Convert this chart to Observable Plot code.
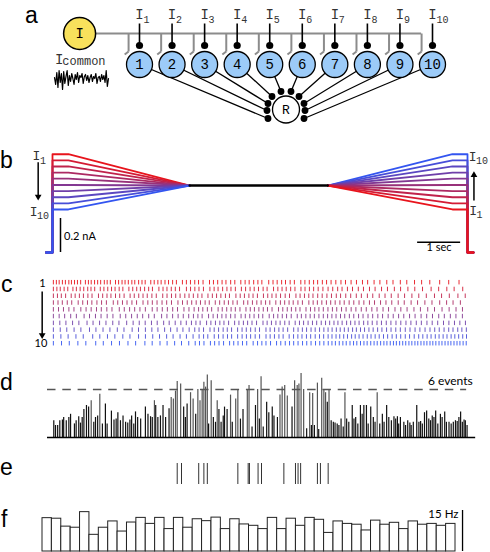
<!DOCTYPE html>
<html><head><meta charset="utf-8">
<script src="https://cdn.jsdelivr.net/npm/d3@7"></script>
<script src="https://cdn.jsdelivr.net/npm/@observablehq/plot@0.6"></script>
<style>
body{margin:0;background:#fff;}
#fig{position:relative;width:490px;height:552px;overflow:hidden;background:#fff;}
.lbl{position:absolute;font-family:"Liberation Sans",Arial,sans-serif;font-size:23px;line-height:23px;color:#000;}
</style></head><body><div id="fig"></div>
<script>
// ---------------- DATA ----------------
const neurons = [1,2,3,4,5,6,7,8,9,10];
const panelLetters = ["a","b","c","d","e","f"];
const commonNoise = [0.2,-0.5,0.7,-0.8,0.9,-0.3,0.6,-1.0,0.8,-0.4,0.3,0.9,-0.6,0.4,-0.2,0.6,0.1,-0.5,0.5,0.0,0.7,-0.3,0.4,0.2,0.6,-0.4,0.3,0.5,-0.1,0.4,-0.3,0.2,0.5,-0.2,0.3,0.1,0.6,-0.4,0.2,0.3,-0.2,0.5,0.0,0.4,-0.3,0.9,-0.7,0.1];

// panel b: injected current (nA) ; break times (s)
const bTimes = [0, 0.37, 3.19, 6.40, 9.30, 9.65];
const bLeftLevels  = [0.578,0.542,0.506,0.470,0.434,0.397,0.361,0.325,0.289,0.253];
const bRightLevels = [0.253,0.289,0.325,0.361,0.397,0.434,0.470,0.506,0.542,0.578];
const bCommonLevel = 0.394;
const bScaleCurrent = 0.2;  // nA
const bScaleTime = 1;       // s

// panel c: inter-spike intervals (ms) for neurons 1..10
const rasterISI = [
 [70,65,75,70,80,60,72,68,75,110,70,65,78,72,70,85,66,74,120,72,80,70,76,82,68,90,78,74,130,80,85,76,90,82,95,88,140,92,
  95,100,88,105,150,92,98,102,90,110,96,140,100,94,105,98,92,160,100,96,104,90,108,98,150,95,102,100,94,110,98,105,
  110,120,105,130,125,140,120,150,135,160,145,170,150,180,165,190,230,210,240,220],
 [82,78,90,85,120,80,88,84,92,76,86,130,84,90,88,82,95,86,140,90,92,86,98,94,88,150,96,92,100,94,98,160,96,
  100,96,104,150,98,92,106,100,94,102,140,98,104,96,100,108,92,150,100,98,96,104,100,140,94,102,98,106,110,120,
  108,115,102,125,118,135,120,140,130,150,138,160,145,170,160,180,200,175,190,170,200,180],
 [95,90,100,130,92,98,94,104,96,150,98,100,92,106,98,102,140,96,104,100,98,108,102,150,100,104,98,102,110,98,
  100,104,96,140,102,98,100,106,94,150,100,98,104,96,102,140,100,98,96,104,108,100,150,96,102,100,98,110,104,110,
  106,112,100,120,115,130,118,140,125,150,135,145,160,150,170,160,175,190,165,180,200,170,160],
 [108,100,115,104,150,106,110,102,118,108,112,160,104,110,106,114,108,150,112,104,110,116,108,112,150,106,110,104,
  104,100,108,96,140,102,106,98,104,100,150,96,108,102,100,104,98,140,106,100,102,96,110,104,150,100,98,104,106,100,
  104,110,100,115,108,122,112,130,118,140,126,135,150,140,160,150,170,165,180,160,150,170,160,170],
 [120,115,126,118,160,122,118,124,112,128,120,170,116,124,118,122,126,160,114,120,118,124,112,150,116,120,
  104,98,106,100,150,96,104,102,98,108,140,100,96,104,102,98,106,150,100,104,96,102,98,140,104,100,96,102,108,
  104,100,112,106,118,110,125,116,130,120,140,128,150,136,145,160,150,170,158,175,165,160,150,170],
 [135,128,140,132,180,126,138,130,142,134,170,128,136,132,126,140,130,170,124,132,128,120,126,
  110,104,98,150,106,100,104,96,108,102,140,98,104,100,106,96,150,102,98,104,100,108,140,96,104,100,98,106,102,100,
  100,96,104,98,108,102,112,104,116,108,120,110,130,118,125,120,135,128,140,130,135,145,130,140,130,150,140],
 [150,142,155,146,190,140,152,148,158,144,180,150,142,138,146,134,150,128,140,132,126,120,
  104,98,150,100,106,102,96,108,140,100,104,98,102,106,150,96,100,104,98,108,102,140,100,96,104,102,98,106,100,
  96,100,92,98,104,94,100,96,106,98,102,110,104,112,108,118,112,120,115,125,118,130,122,128,135,125,130,125,130,120],
 [160,152,170,158,200,150,165,160,172,155,190,148,160,150,142,155,140,150,136,145,130,
  100,104,150,98,102,106,96,100,140,104,98,102,106,100,150,96,104,100,98,106,140,102,100,98,104,96,102,100,98,
  94,98,90,96,92,100,88,96,94,102,98,104,100,108,104,110,106,115,110,118,112,120,115,110,105,112,108,100,110,96,104,100],
 [175,168,182,170,220,165,178,172,185,166,200,160,170,158,165,150,162,148,155,140,
  104,98,150,100,106,102,96,140,104,100,98,106,102,150,96,100,104,98,140,102,100,96,104,98,106,100,96,104,
  90,94,86,92,88,96,84,90,92,98,88,96,94,100,96,104,98,102,106,100,108,104,96,100,92,98,88,94,90,96,86,90,94,88,96],
 [190,180,200,185,230,176,192,184,198,178,215,170,182,165,175,160,168,150,
  100,104,150,98,102,106,140,96,100,104,98,150,102,100,96,106,140,98,104,100,96,102,104,98,100,104,98,96,102,
  86,80,90,84,78,88,82,76,86,80,74,84,78,72,80,76,70,78,74,68,76,72,70,74,68,72,66,74,70,68,72,66,70,74,68,72,70,66,72,70,68,74,72,66]
];

// panel d: population events per bin (time s, count)
const dTimes = [0.03,0.07,0.12,0.17,0.23,0.26,0.32,0.38,0.42,0.51,0.55,0.61,0.65,0.69,0.73,0.79,0.84,0.90,0.96,1.00,1.05,1.10,1.16,1.23,1.27,1.37,1.43,1.48,1.52,1.58,1.64,1.70,1.75,1.80,1.84,1.89,1.93,1.98,2.05,2.16,2.22,2.28,2.32,2.37,2.40,2.45,2.51,2.57,2.63,2.71,2.76,2.81,2.86,2.90,2.98,3.05,3.09,3.13,3.21,3.27,3.33,3.38,3.43,3.48,3.52,3.56,3.60,3.63,3.69,3.74,3.79,3.83,3.87,3.92,3.97,4.00,4.06,4.14,4.18,4.26,4.31,4.37,
 4.43,4.53,4.57,4.64,4.72,4.77,4.81,4.85,4.90,4.98,5.03,5.11,5.15,5.23,5.29,5.34,5.40,5.46,5.57,5.63,5.69,5.73,5.78,5.84,5.91,5.98,6.02,6.05,6.09,6.16,6.19,6.26,6.31,6.35,6.39,6.43,6.48,6.53,6.57,6.62,6.66,6.71,6.76,6.80,6.84,6.89,6.97,7.01,7.05,7.10,7.16,7.20,7.24,7.30,7.34,7.40,7.46,7.50,7.55,7.61,7.67,7.71,7.77,7.82,7.88,7.94,7.98,8.02,8.05,8.09,8.17,8.21,8.26,8.31,8.34,8.39,8.47,8.52,8.56,8.60,8.65,8.70,8.75,8.79,8.83,8.87,8.91,8.96,9.02,9.06,9.12,9.16,9.22,9.27,9.32,9.37,9.41,9.45,9.49,9.53,9.57,9.60,9.64];
const dCounts = [2.1,1.5,1.5,2.1,2.2,2.5,2.1,2.5,2.9,1.7,2.1,2.6,1.8,2.5,3.5,4.0,3.8,4.6,1.9,2.5,2.7,5.4,1.7,4.2,1.7,3.3,2.2,2.3,3.1,2.1,2.7,1.9,1.8,2.2,2.7,1.7,3.2,2.5,2.3,3.8,2.9,2.6,2.5,4.6,4.0,2.5,2.7,4.0,2.5,3.6,5.0,4.8,5.8,7.0,6.7,3.8,2.5,4.2,5.6,4.8,2.9,6.0,4.6,6.0,6.9,6.3,7.8,1.7,7.1,2.5,1.9,4.6,3.5,1.9,2.7,3.8,3.5,5.3,1.9,4.8,6.0,2.3,
 3.5,6.0,6.5,1.3,4.0,6.0,2.3,7.6,1.3,4.4,3.1,3.8,2.7,2.5,5.3,6.3,6.5,5.2,3.8,7.1,6.5,6.7,8.0,6.0,1.1,5.6,1.5,5.5,1.5,6.8,1.0,7.4,6.0,5.6,4.4,6.0,2.1,1.9,1.8,1.7,1.5,2.3,1.3,5.6,2.3,1.9,4.0,2.3,2.5,1.7,4.0,2.9,4.0,4.0,1.7,3.8,2.5,1.9,5.6,1.7,2.9,1.9,4.0,2.5,2.1,2.6,2.3,2.6,1.7,2.5,1.9,1.5,2.1,1.8,1.5,1.9,4.0,1.9,2.0,1.7,3.1,3.3,2.3,2.1,2.7,2.5,3.3,1.7,2.9,2.5,3.2,1.9,1.9,1.7,1.9,2.1,2.0,2.5,3.2,1.9,2.2,2.1,1.5];
const dThreshold = 6; // events

// panel e: synchronous event times (s)
const eTimes = [2.90,3.00,3.40,3.52,3.60,4.31,4.55,4.58,4.78,4.86,5.38,5.65,5.71,5.77,6.16,6.23,6.41];

// panel f: firing rate per bin (Hz)
const fRates = [12.2,12.0,9.1,8.7,14.4,6.1,8.7,11.0,7.3,10.6,12.3,10.1,12.3,8.2,12.3,8.7,11.8,11.1,12.4,8.2,11.8,9.9,9.4,8.2,12.3,8.2,12.0,9.4,12.3,11.6,6.8,11.0,10.1,9.8,7.7,11.3,9.8,10.5,8.2,11.0,9.8,10.1,9.4,10.1];
const fScaleHz = 15;

// ---------------- DRAWING ----------------
const fig = document.getElementById("fig");
const mono = "'Liberation Mono','DejaVu Sans Mono',monospace";
const sans = "Lato,'Open Sans','Liberation Sans',sans-serif";
const redBlue = d3.interpolateRgb("#e8141c", "#3355f0");
const color = k => redBlue((k - 1) / 9);

function place(svg, left, top) {
  svg.style.position = "absolute";
  svg.style.left = left + "px";
  svg.style.top = top + "px";
  svg.style.background = "transparent";
  svg.style.overflow = "visible";
  svg.style.maxWidth = "none";
  fig.appendChild(svg);
}
const base = {margin: 0, style: {background: "transparent", overflow: "visible"}, color: {type: "identity"}};

// panel letters
const letterPos = [[25,3.5],[0,148.5],[1,272.5],[0,370.5],[0,455.5],[1,507.5]];
panelLetters.forEach((s, i) => {
  const d = document.createElement("div");
  d.className = "lbl"; d.textContent = s;
  d.style.left = letterPos[i][0] + "px"; d.style.top = letterPos[i][1] + "px";
  fig.appendChild(d);
});

// ---- panel a (schematic) ----
const step = 32.56;
const hubOff = [[-18,9],[-19,1],[-18,-6],[-14,-13],[-5,-18],[5,-18],[13,-13],[18,-6],[19,1],[18,9]];
const hub = {x: 5.5, y: 109};
const hubDots = neurons.map((k, i) => ({k, x: hub.x + hubOff[i][0] / step, y: hub.y + hubOff[i][1]}));
const srcX = -0.84, branch = 0.335;
place(Plot.plot({...base, width: 490, height: 130,
  x: {domain: [1, 10], range: [139, 432], axis: null},
  y: {domain: [0, 130], range: [0, 130], axis: null},
  marks: [
    Plot.ruleY([33], {x1: srcX, x2: 10 - branch, stroke: "#8c8c8c", strokeWidth: 2}),
    Plot.link(neurons, {x1: k => k - branch, x2: k => k - branch, y1: 33, y2: 51, stroke: "#8c8c8c", strokeWidth: 2}),
    Plot.link(neurons, {x1: k => k - branch, x2: k => k - branch - 0.12, y1: 51, y2: 54, stroke: "#8c8c8c", strokeWidth: 2}),
    Plot.link(neurons, {x1: k => k, x2: k => k, y1: 23, y2: 45, stroke: "black", strokeWidth: 1.6}),
    Plot.dot(neurons, {x: k => k, y: 45, r: 3.6, fill: "black"}),
    Plot.link(hubDots, {x1: "k", y1: 64, x2: "x", y2: "y", stroke: "black", strokeWidth: 1.3}),
    Plot.dot(hubDots, {x: "x", y: "y", r: 3.4, fill: "black"}),
    Plot.dot(neurons, {x: k => k, y: 64, r: 13, fill: "#9ccbf8", stroke: "black", strokeWidth: 1.3}),
    Plot.text(neurons, {x: k => k, y: 64, text: k => String(k), fontFamily: mono, fontSize: 14}),
    Plot.dot([hub], {x: "x", y: "y", r: 13.5, fill: "white", stroke: "black", strokeWidth: 1.3}),
    Plot.text([hub], {x: "x", y: "y", text: () => "R", fontFamily: mono, fontSize: 13}),
    Plot.dot([0], {x: srcX, y: 33, r: 16, fill: "#f8e15c", stroke: "black", strokeWidth: 1.5}),
    Plot.text([0], {x: srcX, y: 33, text: () => "I", fontFamily: mono, fontSize: 14}),
    Plot.text(neurons, {x: k => k, y: 14, text: () => "I", fill: "#333", fontFamily: mono, fontSize: 14}),
    Plot.text(neurons, {x: k => k, y: 19.5, dx: 4, text: k => String(k), fill: "#333", textAnchor: "start", fontFamily: mono, fontSize: 10}),
    Plot.text([0], {x: -1.47, y: 59, text: () => "I", fill: "#333", fontFamily: mono, fontSize: 14}),
    Plot.text([0], {x: -1.37, y: 61, text: () => "common", fill: "#333", textAnchor: "start", fontFamily: mono, fontSize: 12})
  ]
}), 0, 0);

// common noise trace
place(Plot.plot({...base, width: 54, height: 22,
  x: {domain: [0, commonNoise.length - 1], range: [0, 54], axis: null},
  y: {domain: [-1, 1], range: [21, 1], axis: null},
  marks: [Plot.line(commonNoise, {x: (d, i) => i, y: d => d, stroke: "black", strokeWidth: 1.2})]
}), 54, 68);

// ---- panel b ----
const bLeft = [], bRight = [];
neurons.forEach((k, i) => {
  const L = bLeftLevels[i];
  [[bTimes[0] - 0.15, 0], [bTimes[0], 0], [bTimes[0], L], [bTimes[1], L], [bTimes[2], bCommonLevel]]
    .forEach(([t, v]) => bLeft.push({k, t, v}));
});
[...neurons].reverse().forEach(k => {
  const R = bRightLevels[k - 1];
  [[bTimes[3], bCommonLevel], [bTimes[4], R], [bTimes[5], R], [bTimes[5], 0], [bTimes[5] + 0.14, 0]]
    .forEach(([t, v]) => bRight.push({k, t, v}));
});
const tX = {domain: [0, 9.65], range: [52, 467], axis: null};
place(Plot.plot({...base, width: 490, height: 118,
  x: tX,
  y: {domain: [0, 0.6], range: [112, 10], axis: null},
  marks: [
    Plot.line(bLeft, {x: "t", y: "v", z: "k", stroke: d => color(d.k), strokeWidth: 1.8}),
    Plot.line(bRight, {x: "t", y: "v", z: "k", stroke: d => color(d.k), strokeWidth: 1.8}),
    Plot.line([{t: bTimes[2], v: bCommonLevel}, {t: bTimes[3], v: bCommonLevel}], {x: "t", y: "v", stroke: "black", strokeWidth: 2.4}),
    Plot.ruleX([0.186], {y1: 0, y2: bScaleCurrent, stroke: "black", strokeWidth: 1.5}),
    Plot.text([bScaleCurrent], {x: 0.27, y: 0.097, text: d => d + " nA", textAnchor: "start", fontFamily: sans, fontSize: 11}),
    Plot.ruleY([0.06], {x1: 8.49, x2: 8.49 + bScaleTime, stroke: "black", strokeWidth: 1.5}),
    Plot.text([bScaleTime], {x: 8.99, y: 0.03, text: d => d + " sec", fontFamily: sans, fontSize: 11}),
    // left labels
    Plot.text([0], {x: -0.372, y: 0.571, text: () => "I", fill: "#333", fontFamily: mono, fontSize: 13}),
    Plot.text([1], {x: -0.29, y: 0.537, text: d => String(d), fill: "#333", textAnchor: "start", fontFamily: mono, fontSize: 10}),
    Plot.text([0], {x: -0.44, y: 0.238, text: () => "I", fill: "#333", fontFamily: mono, fontSize: 13}),
    Plot.text([10], {x: -0.36, y: 0.216, text: d => String(d), fill: "#333", textAnchor: "start", fontFamily: mono, fontSize: 10}),
    Plot.link([0], {x1: -0.333, x2: -0.333, y1: 0.531, y2: 0.33, stroke: "black", strokeWidth: 1.5}),
    Plot.dot([0], {x: -0.333, y: 0.329, r: 2.5, symbol: "triangle", rotate: 180, fill: "black"}),
    // right labels
    Plot.text([0], {x: 9.767, y: 0.562, text: () => "I", fill: "#333", fontFamily: mono, fontSize: 13}),
    Plot.text([10], {x: 9.85, y: 0.54, text: d => String(d), fill: "#333", textAnchor: "start", fontFamily: mono, fontSize: 10}),
    Plot.link([0], {x1: 9.80, x2: 9.80, y1: 0.306, y2: 0.453, stroke: "black", strokeWidth: 1.5}),
    Plot.dot([0], {x: 9.80, y: 0.455, r: 2.5, symbol: "triangle", fill: "black"}),
    Plot.text([0], {x: 9.78, y: 0.247, text: () => "I", fill: "#333", fontFamily: mono, fontSize: 13}),
    Plot.text([1], {x: 9.86, y: 0.222, text: d => String(d), fill: "#333", textAnchor: "start", fontFamily: mono, fontSize: 10})
  ]
}), 0, 140);

// ---- panel c ----
const spikes = [];
rasterISI.forEach((isis, i) => {
  let t = 0.02;
  spikes.push({k: i + 1, t});
  for (const d of isis) { t += d / 1000; if (t <= 9.63) spikes.push({k: i + 1, t}); }
});
place(Plot.plot({...base, width: 490, height: 80,
  x: tX,
  y: {domain: [0.5, 10.5], range: [6.8, 74.6], axis: null},
  marks: [
    Plot.ruleX(spikes, {x: "t", y1: d => d.k - 0.33, y2: d => d.k + 0.33, stroke: d => color(d.k), strokeWidth: 1, strokeOpacity: 0.9}),
    Plot.text([neurons[0]], {x: -0.233, y: 1.1, text: d => String(d), fontFamily: sans, fontSize: 11}),
    Plot.text([neurons[9]], {x: -0.27, y: 9.97, text: d => String(d), fontFamily: sans, fontSize: 11}),
    Plot.link([0], {x1: -0.24, x2: -0.24, y1: 2.3, y2: 8.7, stroke: "black", strokeWidth: 1.5}),
    Plot.dot([0], {x: -0.24, y: 8.73, r: 2.5, symbol: "triangle", rotate: 180, fill: "black"})
  ]
}), 0, 272);

// ---- panel d ----
const dData = dTimes.map((t, i) => ({t, n: dCounts[i]}));
place(Plot.plot({...base, width: 490, height: 82,
  x: tX,
  y: {domain: [0, 8], range: [77, 13], axis: null},
  marks: [
    Plot.ruleX(dData, {x: "t", y1: 0, y2: "n", stroke: d => d.n > 4.5 ? "#555" : "#111", strokeWidth: 1.2}),
    Plot.ruleY([dThreshold], {x1: -0.116, x2: 9.63, stroke: "#555", strokeWidth: 1.5, strokeDasharray: "8.5,6.8"}),
    Plot.ruleY([0], {x1: -0.116, x2: 9.84, stroke: "black", strokeWidth: 1.5}),
    Plot.text([dThreshold], {x: 9.77, y: 7.1, text: d => d + " events", textAnchor: "end", fontFamily: sans, fontSize: 12})
  ]
}), 0, 360);

// ---- panel e ----
place(Plot.plot({...base, width: 490, height: 21,
  x: tX,
  marks: [Plot.ruleX(eTimes, {x: d => d, stroke: "#333", strokeWidth: 1})]
}), 0, 463);

// ---- panel f ----
place(Plot.plot({...base, width: 490, height: 52,
  x: {domain: [0, fRates.length], range: [42, 455], axis: null},
  y: {domain: [0, 15], range: [51, 10], axis: null},
  marks: [
    Plot.rect(fRates, {x1: (d, i) => i, x2: (d, i) => i + 1, y1: 0, y2: d => d, fill: "white", stroke: "#222", strokeWidth: 1}),
    Plot.ruleX([44.75], {y1: 0, y2: fScaleHz, stroke: "black", strokeWidth: 1.3}),
    Plot.text([fScaleHz], {x: 44.32, y: 13.5, text: d => d + " Hz", textAnchor: "end", fontFamily: sans, fontSize: 11.5})
  ]
}), 0, 500);
</script>
</body></html>
